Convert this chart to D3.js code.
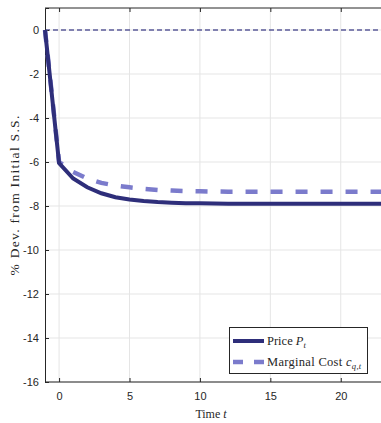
<!DOCTYPE html>
<html>
<head>
<meta charset="utf-8">
<script src="https://cdn.jsdelivr.net/npm/d3@7"></script>
<style>
  body { margin: 0; background: #fff; }
  svg { display: block; }
  .tick text { font-family: "Liberation Sans", Arial, sans-serif; font-size: 11px; fill: #262626; }
  .lab { font-family: "Liberation Serif", "DejaVu Serif", serif; fill: #262626; }
</style>
</head>
<body>
<div id="okvir"></div>
<script>
// podaci
const vrijeme = [-1, 0, 1, 2, 3, 4, 5, 6, 7, 8, 9, 10, 11, 12, 13, 14, 15, 16, 17, 18, 19, 20, 21, 22, 23]
const cijena = [0, -6.05, -6.75, -7.15, -7.42, -7.6, -7.7, -7.77, -7.82, -7.85, -7.87, -7.88, -7.89, -7.9, -7.9, -7.9, -7.9, -7.9, -7.9, -7.9, -7.9, -7.9, -7.9, -7.9, -7.9]
const trosak = [0, -6.0, -6.45, -6.75, -6.95, -7.07, -7.15, -7.22, -7.27, -7.3, -7.32, -7.33, -7.34, -7.35, -7.35, -7.35, -7.35, -7.35, -7.35, -7.35, -7.35, -7.35, -7.35, -7.35, -7.35]
const xTicks = [0, 5, 10, 15, 20]
const yTicks = [0, -2, -4, -6, -8, -10, -12, -14, -16]

const sirina = 381, visina = 423
const m = { left: 45, top: 8, right: -2, bottom: 41 }

const svg = d3.select("#okvir").append("svg")
  .attr("width", sirina).attr("height", visina)

const x = d3.scaleLinear().domain([-1, 23]).range([m.left, sirina - m.right])
const y = d3.scaleLinear().domain([-16, 1]).range([visina - m.bottom, m.top])

// mreza
const g = svg.append("g")
g.selectAll(".gx").data(xTicks).enter().append("line")
  .attr("x1", d => x(d)).attr("x2", d => x(d))
  .attr("y1", y(1)).attr("y2", y(-16))
  .attr("stroke", "#e5e5e5").attr("stroke-width", 1)
g.selectAll(".gy").data(yTicks).enter().append("line")
  .attr("x1", x(-1)).attr("x2", x(23))
  .attr("y1", d => y(d)).attr("y2", d => y(d))
  .attr("stroke", "#e5e5e5").attr("stroke-width", 1)

// nulta linija
svg.append("line")
  .attr("x1", x(-1)).attr("x2", x(23))
  .attr("y1", y(0)).attr("y2", y(0))
  .attr("stroke", "#10106e").attr("stroke-width", 1)
  .attr("stroke-dasharray", "5,3")

// osi
const osX = svg.append("g")
  .attr("transform", `translate(0,${y(-16)})`)
  .call(d3.axisBottom(x).tickValues(xTicks).tickSize(-4).tickPadding(10))
const osXgore = svg.append("g")
  .attr("transform", `translate(0,${y(1)})`)
  .call(d3.axisTop(x).tickValues(xTicks).tickSize(-4).tickFormat(""))
const osY = svg.append("g")
  .attr("transform", `translate(${x(-1)},0)`)
  .call(d3.axisLeft(y).tickValues(yTicks).tickSize(-4).tickPadding(6).tickFormat(d => String(d)))
;[osX, osXgore, osY].forEach(o => {
  o.selectAll(".domain").attr("stroke", "#262626")
  o.selectAll(".tick line").attr("stroke", "#262626")
})
osX.select(".domain").attr("d", `M${x(-1)},0H${sirina + 5}`)
osXgore.select(".domain").attr("d", `M${x(-1)},0H${sirina + 5}`)

// linije
const linija = d3.line().x((d, i) => x(vrijeme[i])).y(d => y(d))
svg.append("path").datum(trosak)
  .attr("fill", "none").attr("stroke", "#7b7bcc").attr("stroke-width", 4.5)
  .attr("stroke-dasharray", "12,13").attr("d", linija)
svg.append("path").datum(cijena)
  .attr("fill", "none").attr("stroke", "#2e2e7a").attr("stroke-width", 4)
  .attr("d", linija)

// natpisi
svg.append("text").attr("class", "lab")
  .attr("transform", `translate(19,${(y(1) + y(-16)) / 2}) rotate(-90)`)
  .attr("text-anchor", "middle").attr("font-size", 13.5)
  .attr("letter-spacing", 1.3)
  .text("% Dev. from Initial S.S.")
const tl = svg.append("text").attr("class", "lab")
  .attr("x", 211).attr("y", 418).attr("text-anchor", "middle").attr("font-size", 12)
tl.append("tspan").text("Time ")
tl.append("tspan").attr("font-style", "italic").text("t")

// legenda
const leg = svg.append("g")
leg.append("rect").attr("x", 229.5).attr("y", 327.5).attr("width", 138).attr("height", 46)
  .attr("fill", "#fff").attr("stroke", "#262626").attr("stroke-width", 1)
leg.append("line").attr("x1", 233).attr("x2", 264).attr("y1", 341).attr("y2", 341)
  .attr("stroke", "#2e2e7a").attr("stroke-width", 4)
leg.append("line").attr("x1", 233).attr("x2", 264).attr("y1", 362).attr("y2", 362)
  .attr("stroke", "#7b7bcc").attr("stroke-width", 4.5).attr("stroke-dasharray", "10,11")
const t1 = leg.append("text").attr("class", "lab").attr("x", 267).attr("y", 345).attr("font-size", 12.5)
t1.append("tspan").text("Price ")
t1.append("tspan").attr("font-style", "italic").text("P")
t1.append("tspan").attr("font-style", "italic").attr("font-size", 8.5).attr("dy", 3).text("t")
const t2 = leg.append("text").attr("class", "lab").attr("x", 267).attr("y", 366).attr("font-size", 12.5)
  .attr("letter-spacing", 0.3)
t2.append("tspan").text("Marginal Cost ")
t2.append("tspan").attr("font-style", "italic").text("c")
t2.append("tspan").attr("font-style", "italic").attr("font-size", 8.5).attr("dy", 3).text("q,t")
</script>
</body>
</html>
